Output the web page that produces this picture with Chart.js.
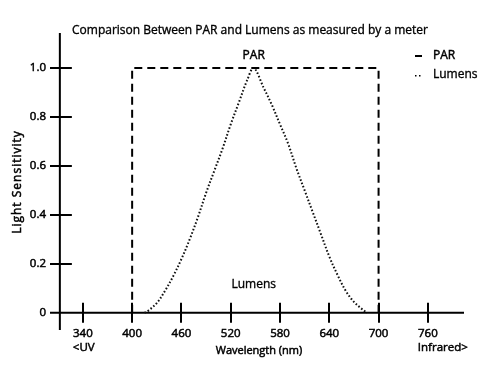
<!DOCTYPE html>
<html>
<head>
<meta charset="utf-8">
<script src="https://cdn.jsdelivr.net/npm/chart.js@4/dist/chart.umd.min.js"></script>
<style>
  html, body { margin: 0; padding: 0; background: #fff; }
  #wrap { width: 498px; height: 366px; }
</style>
</head>
<body>
<div id="wrap"><canvas id="myChart" width="498" height="366"></canvas></div>
<script>
// data
const chartTitle = 'Comparison Between PAR and Lumens as measured by a meter';
const xTicks = [340, 400, 460, 520, 580, 640, 700, 760];
const yTicks = [0, 0.2, 0.4, 0.6, 0.8, 1.0];
const yTickLabels = ['0', '0.2', '0.4', '0.6', '0.8', '1.0'];
const parWavelengths = [400, 400, 700, 700];
const parValues = [0, 1.0, 1.0, 0];
const lumensWavelengths = [415, 420, 430, 440, 450, 460, 470, 480, 490, 500, 510, 520, 530, 540, 548,
  560, 570, 580, 590, 600, 610, 620, 630, 640, 650, 660, 670, 680, 686];
const lumensValues = [0, 0.01, 0.04, 0.09, 0.15, 0.22, 0.30, 0.39, 0.49, 0.58, 0.67, 0.77, 0.86, 0.95, 1.0,
  0.92, 0.85, 0.77, 0.69, 0.59, 0.50, 0.41, 0.32, 0.23, 0.155, 0.09, 0.045, 0.015, 0];

function toPoints(xs, ys) {
  let pts = [];
  for (let i = 0; i < xs.length; i++) pts.push({x: xs[i], y: ys[i]});
  return pts;
}

const FONT = '"Open Sans", "Noto Sans", sans-serif';

// slightly heavier text, like the semibold face of the original
function heavyText(ctx, txt, x, y, w) {
  ctx.fillText(txt, x, y);
  ctx.lineWidth = w;
  ctx.strokeText(txt, x, y);
}

// axes with ticks crossing the line, drawn through the chart's scales
const axesPlugin = {
  id: 'axes',
  beforeDatasetsDraw(chart) {
    const ctx = chart.ctx;
    const xs = chart.scales.x, ys = chart.scales.y;
    const area = chart.chartArea;
    const y0 = ys.getPixelForValue(0);
    const xAxis = xs.getPixelForValue(312);
    ctx.save();
    ctx.strokeStyle = '#000';
    ctx.lineWidth = 2;
    ctx.beginPath();
    ctx.moveTo(area.left, y0); ctx.lineTo(area.right, y0);
    ctx.moveTo(xAxis, area.top); ctx.lineTo(xAxis, area.bottom);
    for (let i = 0; i < xTicks.length; i++) {
      let px = Math.round(xs.getPixelForValue(xTicks[i]));
      ctx.moveTo(px, y0 - 10); ctx.lineTo(px, y0 + 10);
    }
    for (let i = 1; i < yTicks.length; i++) {
      let py = Math.round(ys.getPixelForValue(yTicks[i]));
      ctx.moveTo(area.left, py); ctx.lineTo(xAxis + 12, py);
    }
    ctx.stroke();
    ctx.restore();
  },
  afterDraw(chart) {
    const ctx = chart.ctx;
    const xs = chart.scales.x, ys = chart.scales.y;
    const y0 = ys.getPixelForValue(0);
    ctx.save();
    ctx.fillStyle = '#000';
    ctx.strokeStyle = '#000';
    ctx.textBaseline = 'middle';
    // title
    ctx.font = '12px ' + FONT;
    ctx.textAlign = 'center';
    heavyText(ctx, chartTitle, 250, 31, 0.35);
    // y tick labels
    ctx.font = '11.5px ' + FONT;
    ctx.textAlign = 'right';
    for (let i = 0; i < yTicks.length; i++) {
      heavyText(ctx, yTickLabels[i], 46, ys.getPixelForValue(yTicks[i]), 0.5);
    }
    // x tick labels
    ctx.textAlign = 'center';
    for (let i = 0; i < xTicks.length; i++) {
      heavyText(ctx, String(xTicks[i]), xs.getPixelForValue(xTicks[i]), y0 + 21, 0.5);
    }
    ctx.textAlign = 'left';
    heavyText(ctx, '<UV', xs.getPixelForValue(340) - 10, y0 + 35, 0.5);
    heavyText(ctx, 'Infrared>', xs.getPixelForValue(760) - 10, y0 + 35, 0.5);
    ctx.font = '11px ' + FONT;
    ctx.textAlign = 'center';
    heavyText(ctx, 'Wavelength (nm)', 259, y0 + 38, 0.5);
    // y title
    ctx.save();
    ctx.translate(18, 182);
    ctx.rotate(-Math.PI / 2);
    ctx.font = '12px ' + FONT;
    if ('letterSpacing' in ctx) ctx.letterSpacing = '1px';
    heavyText(ctx, 'Light Sensitivity', 0, 0, 0.5);
    ctx.restore();
    // series labels
    ctx.font = '12px ' + FONT;
    ctx.textAlign = 'center';
    heavyText(ctx, 'PAR', xs.getPixelForValue(548), ys.getPixelForValue(1.05), 0.45);
    heavyText(ctx, 'Lumens', xs.getPixelForValue(548), ys.getPixelForValue(0.115), 0.35);
    // legend
    ctx.textAlign = 'left';
    heavyText(ctx, 'PAR', 433, 56, 0.45);
    heavyText(ctx, 'Lumens', 433, 75, 0.35);
    ctx.lineWidth = 2;
    ctx.beginPath();
    ctx.moveTo(415, 56); ctx.lineTo(422, 56);
    ctx.stroke();
    ctx.fillRect(415, 75, 1.5, 1.5);
    ctx.fillRect(419, 75, 1.5, 1.5);
    ctx.restore();
  }
};

var config = {
  type: 'scatter',
  data: {
    datasets: [{
      label: 'PAR',
      data: toPoints(parWavelengths, parValues),
      showLine: true,
      borderColor: '#000',
      borderWidth: 2,
      borderDash: [8, 5],
      pointRadius: 0,
      tension: 0
    }, {
      label: 'Lumens',
      data: toPoints(lumensWavelengths, lumensValues),
      showLine: true,
      borderColor: '#111',
      borderWidth: 2,
      borderDash: [1.6, 2],
      pointRadius: 0,
      tension: 0.35
    }]
  },
  options: {
    responsive: false,
    animation: false,
    layout: {
      padding: {left: 50, right: 34, top: 33, bottom: 36}
    },
    scales: {
      x: {type: 'linear', min: 300, max: 804, display: false},
      y: {type: 'linear', min: -0.07, max: 1.143, display: false}
    },
    plugins: {
      legend: {display: false},
      title: {display: false},
      tooltip: {enabled: false}
    }
  },
  plugins: [axesPlugin]
};

var ctx = document.getElementById('myChart').getContext('2d');
window.myChart = new Chart(ctx, config);
</script>
</body>
</html>
